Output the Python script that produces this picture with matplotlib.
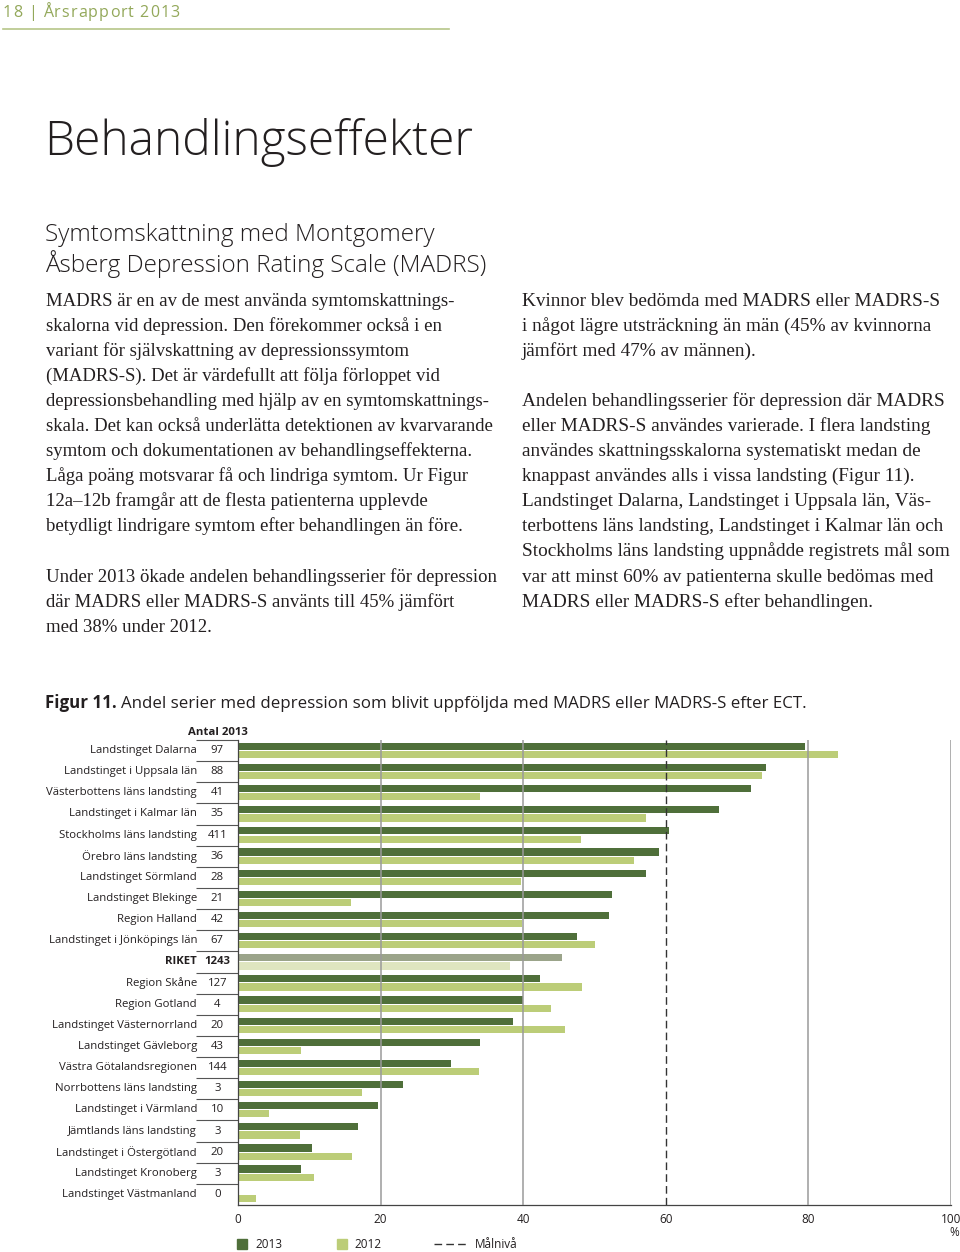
import matplotlib.pyplot as plt
from matplotlib.lines import Line2D
from matplotlib.patches import Rectangle

# data (percent of series followed up with MADRS / MADRS-S)
regions = ['Landstinget Dalarna', 'Landstinget i Uppsala län', 'Västerbottens läns landsting',
           'Landstinget i Kalmar län', 'Stockholms läns landsting', 'Örebro läns landsting',
           'Landstinget Sörmland', 'Landstinget Blekinge', 'Region Halland',
           'Landstinget i Jönköpings län', 'RIKET', 'Region Skåne', 'Region Gotland',
           'Landstinget Västernorrland', 'Landstinget Gävleborg', 'Västra Götalandsregionen',
           'Norrbottens läns landsting', 'Landstinget i Värmland', 'Jämtlands läns landsting',
           'Landstinget i Östergötland', 'Landstinget Kronoberg', 'Landstinget Västmanland']
counts = [97, 88, 41, 35, 411, 36, 28, 21, 42, 67, 1243, 127, 4, 20, 43, 144, 3, 10, 3, 20, 3, 0]
pct_2013 = [79.5, 74.1, 72.0, 67.4, 60.5, 59.1, 57.2, 52.5, 52.0, 47.6, 45.5, 42.3, 40.0,
            38.6, 33.9, 29.9, 23.1, 19.6, 16.8, 10.4, 8.8, 0.0]
pct_2012 = [84.2, 73.5, 33.9, 57.2, 48.1, 55.5, 39.7, 15.8, 39.8, 50.1, 38.1, 48.3, 43.9,
            45.8, 8.8, 33.8, 17.4, 4.3, 8.7, 16.0, 10.6, 2.5]
x_ticks = [0, 20, 40, 60, 80, 100]
target = 60

DARK = '#4f6f3a'
LIGHT = '#bccd78'
RIKET_DARK = '#9ba48a'
RIKET_LIGHT = '#dfe5c0'
TXT = '#231f20'
SANS = ['Open Sans', 'DejaVu Sans']
SERIF = ['Liberation Serif', 'DejaVu Serif']
LAB = 8.2

W, H = 960, 1252
fig = plt.figure(figsize=(W / 100, H / 100), dpi=100)


def fx(x):
    return x / W


def fy(y):
    return 1 - y / H


# page header, letter-spaced by placing glyphs one by one
renderer = fig.canvas.get_renderer()
x = 3.0
for ch in '18 | Årsrapport 2013':
    t = fig.text(fx(x), fy(17), ch, color='#93a85a', fontsize=11.5, family=SANS,
                 va='baseline')
    wpx = 3.5 if ch == ' ' else t.get_window_extent(renderer).width
    x += wpx + 1.1
fig.add_artist(Line2D([fx(3), fx(449)], [fy(29), fy(29)], color='#b6c689', lw=1.2))

fig.text(fx(44), fy(155), 'Behandlingseffekter', color=TXT, fontsize=34.5,
         family=SANS, fontweight='light', va='baseline')
fig.text(fx(45), fy(241), 'Symtomskattning med Montgomery', color=TXT, fontsize=17.5,
         family=SANS, fontweight='light', va='baseline')
fig.text(fx(45), fy(272), 'Åsberg Depression Rating Scale (MADRS)', color=TXT, fontsize=17.5,
         family=SANS, fontweight='light', va='baseline')

left_col = [
    'MADRS är en av de mest använda symtomskattnings-',
    'skalorna vid depression. Den förekommer också i en',
    'variant för självskattning av depressionssymtom',
    '(MADRS-S). Det är värdefullt att följa förloppet vid',
    'depressionsbehandling med hjälp av en symtomskattnings-',
    'skala. Det kan också underlätta detektionen av kvarvarande',
    'symtom och dokumentationen av behandlingseffekterna.',
    'Låga poäng motsvarar få och lindriga symtom. Ur Figur',
    '12a–12b framgår att de flesta patienterna upplevde',
    'betydligt lindrigare symtom efter behandlingen än före.',
    '',
    'Under 2013 ökade andelen behandlingsserier för depression',
    'där MADRS eller MADRS-S använts till 45% jämfört',
    'med 38% under 2012.',
]
right_col = [
    'Kvinnor blev bedömda med MADRS eller MADRS-S',
    'i något lägre utsträckning än män (45% av kvinnorna',
    'jämfört med 47% av männen).',
    '',
    'Andelen behandlingsserier för depression där MADRS',
    'eller MADRS-S användes varierade. I flera landsting',
    'användes skattningsskalorna systematiskt medan de',
    'knappast användes alls i vissa landsting (Figur 11).',
    'Landstinget Dalarna, Landstinget i Uppsala län, Väs-',
    'terbottens läns landsting, Landstinget i Kalmar län och',
    'Stockholms läns landsting uppnådde registrets mål som',
    'var att minst 60% av patienterna skulle bedömas med',
    'MADRS eller MADRS-S efter behandlingen.',
]
for col_x, lines, size in [(46, left_col, 13.5), (522, right_col, 13.9)]:
    for k, line in enumerate(lines):
        base = 306 + 25 * k + (1 if k > 10 else 0)
        fig.text(fx(col_x), fy(base), line, color=TXT, fontsize=size,
                 family=SERIF, va='baseline')

# figure caption
cap = fig.text(fx(45), fy(708), 'Figur 11.', color=TXT, fontsize=12.2,
               family=SANS, fontweight='bold', va='baseline')

# chart
ax = fig.add_axes([fx(238), fy(1205), 713 / W, 465 / H])
n = len(regions)
rows = list(range(n))
c13 = [RIKET_DARK if r == 'RIKET' else DARK for r in regions]
c12 = [RIKET_LIGHT if r == 'RIKET' else LIGHT for r in regions]
ax.barh([i - 0.2 for i in rows], pct_2013, height=0.34, color=c13, zorder=2)
ax.barh([i + 0.19 for i in rows], pct_2012, height=0.34, color=c12, zorder=2)

for t in x_ticks[1:]:
    if t == target:
        continue
    ax.axvline(t, color='#9a9a9a', lw=1.1, zorder=3)
ax.axvline(target, color='#333333', lw=1.0, ls=(0, (5.5, 3)), zorder=3)

ax.set_xlim(0, 100)
ax.set_ylim(n - 0.5, -0.5)
ax.set_xticks(x_ticks)
ax.set_yticks([])
ax.tick_params(axis='x', length=0, pad=6, labelsize=8.5, labelcolor=TXT)
for lab in ax.get_xticklabels():
    lab.set_family(SANS)
for s in ['top', 'right']:
    ax.spines[s].set_visible(False)
for s in ['left', 'bottom']:
    ax.spines[s].set_color('#444444')
    ax.spines[s].set_linewidth(0.9)

ytr = ax.get_yaxis_transform()
ax.hlines([i - 0.5 for i in rows], -0.059, 0, transform=ytr, color='#555555',
          lw=0.8, clip_on=False)
for i, (r, c) in enumerate(zip(regions, counts)):
    w = 'bold' if r == 'RIKET' else 'normal'
    ax.text(-0.0575, i, r, transform=ytr, ha='right', va='center', fontsize=LAB,
            family=SANS, fontweight=w, color=TXT)
    ax.text(-0.029, i, str(c), transform=ytr, ha='center', va='center', fontsize=LAB,
            family=SANS, fontweight=w, color=TXT)
ax.text(-0.028, -0.6, 'Antal 2013', transform=ytr, ha='center', va='bottom',
        fontsize=LAB, family=SANS, fontweight='bold', color=TXT)

ax.annotate('Andel serier med depression som blivit uppföljda med MADRS eller MADRS-S efter ECT.',
            xy=(1, 0), xycoords=cap, xytext=(3, 0), textcoords='offset points',
            va='bottom', ha='left', fontsize=12.2, family=SANS, color=TXT,
            annotation_clip=False)

fig.text(fx(959), fy(1236), '%', ha='right', va='baseline', fontsize=8.5,
         family=SANS, color=TXT)

# legend
fig.add_artist(Rectangle((fx(237), fy(1249)), 10 / W, 10 / H, color=DARK,
                         transform=fig.transFigure))
fig.text(fx(255), fy(1248), '2013', fontsize=8.5, family=SANS, color=TXT, va='baseline')
fig.add_artist(Rectangle((fx(337), fy(1249)), 10 / W, 10 / H, color=LIGHT,
                         transform=fig.transFigure))
fig.text(fx(354), fy(1248), '2012', fontsize=8.5, family=SANS, color=TXT, va='baseline')
fig.add_artist(Line2D([fx(434), fx(468)], [fy(1244), fy(1244)], color='#333333',
                      lw=1.0, ls=(0, (5.5, 3))))
fig.text(fx(475), fy(1248), 'Målnivå', fontsize=8.5, family=SANS, color=TXT, va='baseline')

fig.savefig('out.png', dpi=100, facecolor='white')
